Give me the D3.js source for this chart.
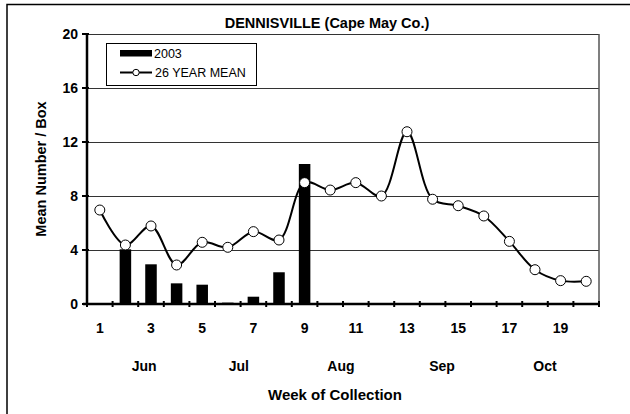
<!DOCTYPE html>
<html>
<head>
<meta charset="utf-8">
<script src="https://cdnjs.cloudflare.com/ajax/libs/d3/7.8.5/d3.min.js"></script>
<style>
  body { margin: 0; background: #fff; }
  text { font-family: Arial, "Liberation Sans", sans-serif; fill: #000; }
</style>
</head>
<body>
<div id="chart"></div>
<script>
// data
var weeks = d3.range(1, 21);
var bars2003 = [0, 4.05, 2.94, 1.53, 1.43, 0.1, 0.54, 2.35, 10.37];
var mean26 = [6.96, 4.37, 5.78, 2.89, 4.57, 4.2, 5.36, 4.74, 8.99, 8.44,
              8.99, 8.0, 12.76, 7.76, 7.28, 6.52, 4.64, 2.54, 1.73, 1.68];
var yTicks = [0, 4, 8, 12, 16, 20];
var xLabels = [1, 3, 5, 7, 9, 11, 13, 15, 17, 19];
var months = ["Jun", "Jul", "Aug", "Sep", "Oct"];
var monthWeek = [2.73, 6.43, 10.42, 14.37, 18.39];

var W = 630, H = 414;
var margin = {top: 34, right: 31, bottom: 110, left: 87};
var width = W - margin.left - margin.right;
var height = H - margin.top - margin.bottom;

var root = d3.select("#chart").append("svg")
    .attr("width", W)
    .attr("height", H);

// outer frame (only left/top visible in the picture)
root.append("rect")
    .attr("x", 7).attr("y", 4.5)
    .attr("width", 800).attr("height", 600)
    .attr("fill", "none")
    .attr("stroke", "#000")
    .attr("stroke-width", 1.5);

var svg = root.append("g")
    .attr("transform", "translate(" + margin.left + "," + margin.top + ")");

var x = d3.scaleBand().domain(weeks).range([0, width]).paddingInner(0.55).paddingOuter(0.275);
var xw = d3.scaleLinear().domain([0.5, 20.5]).range([0, width]);
var y = d3.scaleLinear().domain([0, 20]).range([height, 0]);

// gridlines
svg.append("g")
    .selectAll("line")
    .data(yTicks.filter(function(d) { return d > 0; }))
    .enter()
    .append("line")
    .attr("x1", 0)
    .attr("x2", width)
    .attr("y1", function(d) { return Math.round(y(d)) + 0.5; })
    .attr("y2", function(d) { return Math.round(y(d)) + 0.5; })
    .attr("stroke", "#333")
    .attr("stroke-width", 1.2);

// right border of plot
svg.append("line")
    .attr("x1", width).attr("x2", width)
    .attr("y1", 0).attr("y2", height)
    .attr("stroke", "#555")
    .attr("stroke-width", 1.5);

// bars
svg.append("g")
    .selectAll("rect")
    .data(bars2003)
    .enter()
    .append("rect")
    .attr("x", function(d, i) { return x(weeks[i]); })
    .attr("width", x.bandwidth())
    .attr("y", function(d) { return y(d); })
    .attr("height", function(d) { return height - y(d); })
    .attr("fill", "#000");

// x axis with crossing ticks
var xAxis = svg.append("g").attr("transform", "translate(0," + height + ")");
xAxis.append("line")
    .attr("x1", -4).attr("x2", width)
    .attr("stroke", "#000").attr("stroke-width", 2.5);
xAxis.selectAll("line.tk")
    .data(d3.range(0, 21))
    .enter()
    .append("line")
    .attr("class", "tk")
    .attr("x1", function(d) { return xw(d + 0.5); })
    .attr("x2", function(d) { return xw(d + 0.5); })
    .attr("y1", -3).attr("y2", 3)
    .attr("stroke", "#000").attr("stroke-width", 2);
xAxis.selectAll("text")
    .data(xLabels)
    .enter()
    .append("text")
    .attr("x", function(d) { return xw(d); })
    .attr("y", 29)
    .attr("text-anchor", "middle")
    .style("font-size", "14px")
    .style("font-weight", "bold")
    .text(function(d) { return d; });

// month labels under the week numbers
xAxis.append("g")
    .selectAll("text")
    .data(months)
    .enter()
    .append("text")
    .attr("x", function(d, i) { return xw(monthWeek[i]); })
    .attr("y", 67)
    .attr("text-anchor", "middle")
    .style("font-size", "14px")
    .style("font-weight", "bold")
    .text(function(d) { return d; });

// y axis
var yAxis = svg.append("g");
yAxis.append("line")
    .attr("y1", 0).attr("y2", height + 1)
    .attr("stroke", "#000").attr("stroke-width", 2.5);
yAxis.selectAll("line.tk")
    .data(yTicks)
    .enter()
    .append("line")
    .attr("class", "tk")
    .attr("x1", -5).attr("x2", 2)
    .attr("y1", function(d) { return y(d); })
    .attr("y2", function(d) { return y(d); })
    .attr("stroke", "#000").attr("stroke-width", 2);
yAxis.selectAll("text")
    .data(yTicks)
    .enter()
    .append("text")
    .attr("x", -9)
    .attr("y", function(d) { return y(d); })
    .attr("dy", "0.36em")
    .attr("text-anchor", "end")
    .style("font-size", "14px")
    .style("font-weight", "bold")
    .text(function(d) { return d; });

// mean line, smoothed
var line = d3.line()
    .x(function(d, i) { return xw(weeks[i]); })
    .y(function(d) { return y(d); })
    .curve(d3.curveCatmullRom.alpha(0.5));

svg.append("path")
    .datum(mean26)
    .attr("d", line)
    .attr("fill", "none")
    .attr("stroke", "#000")
    .attr("stroke-width", 2);

svg.append("g")
    .selectAll("circle")
    .data(mean26)
    .enter()
    .append("circle")
    .attr("cx", function(d, i) { return xw(weeks[i]); })
    .attr("cy", function(d) { return y(d); })
    .attr("r", 5)
    .attr("fill", "#fff")
    .attr("stroke", "#000")
    .attr("stroke-width", 1);

// titles
root.append("text")
    .attr("x", 327).attr("y", 28)
    .attr("text-anchor", "middle")
    .style("font-size", "14.5px")
    .style("font-weight", "bold")
    .text("DENNISVILLE (Cape May Co.)");

root.append("text")
    .attr("x", 335).attr("y", 400)
    .attr("text-anchor", "middle")
    .style("font-size", "15px")
    .style("font-weight", "bold")
    .text("Week of Collection");

root.append("text")
    .attr("transform", "translate(46," + (margin.top + height / 2) + ") rotate(-90)")
    .attr("text-anchor", "middle")
    .style("font-size", "14.5px")
    .style("font-weight", "bold")
    .text("Mean Number / Box");

// legend
var leg = root.append("g").attr("transform", "translate(106,43)");
leg.append("rect")
    .attr("x", 0.5).attr("y", 0.5)
    .attr("width", 150).attr("height", 42)
    .attr("fill", "#fff")
    .attr("stroke", "#000")
    .attr("stroke-width", 1);
leg.append("rect")
    .attr("x", 14).attr("y", 7)
    .attr("width", 32).attr("height", 6.5)
    .attr("fill", "#000");
leg.append("text")
    .attr("x", 48).attr("y", 15)
    .style("font-size", "12.5px")
    .text("2003");
leg.append("line")
    .attr("x1", 14).attr("x2", 46)
    .attr("y1", 29.5).attr("y2", 29.5)
    .attr("stroke", "#000").attr("stroke-width", 2);
leg.append("circle")
    .attr("cx", 30).attr("cy", 29.5).attr("r", 3.2)
    .attr("fill", "#fff").attr("stroke", "#000").attr("stroke-width", 1);
leg.append("text")
    .attr("x", 49).attr("y", 34)
    .style("font-size", "12.5px")
    .text("26 YEAR MEAN");
</script>
</body>
</html>
